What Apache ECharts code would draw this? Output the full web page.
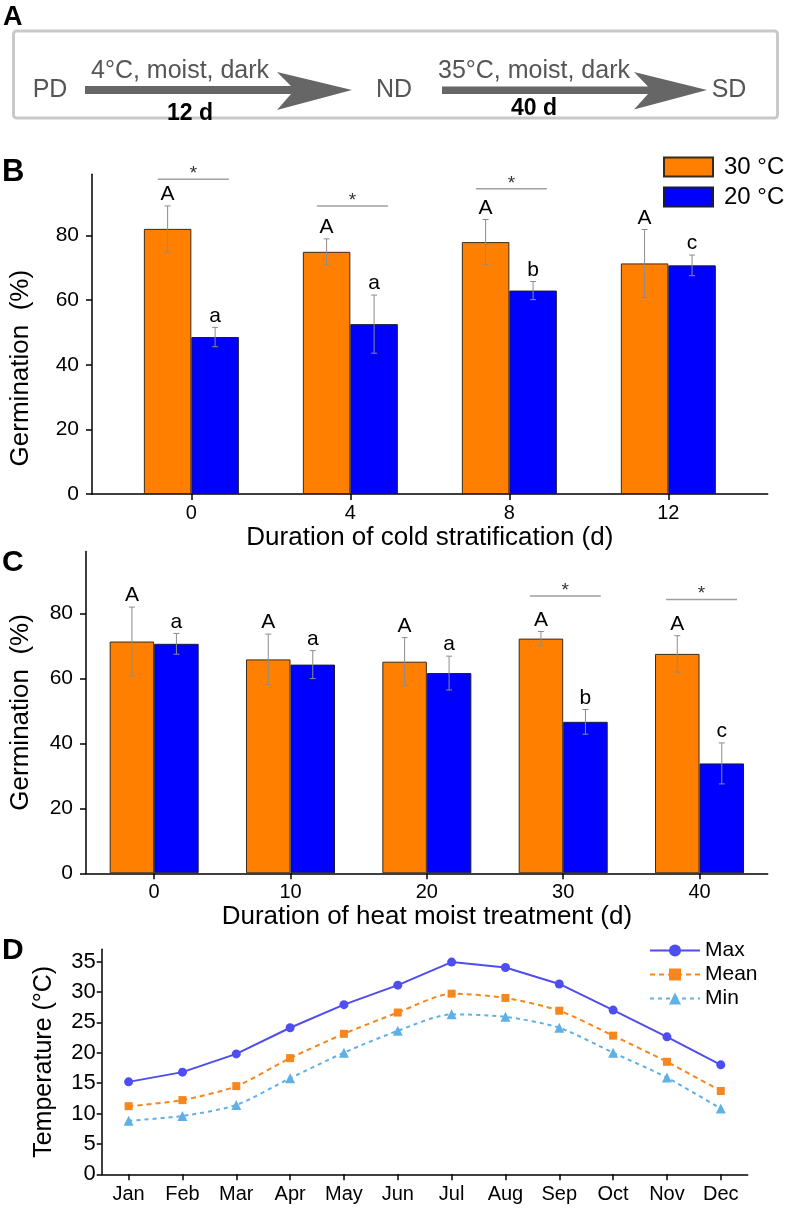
<!DOCTYPE html>
<html><head><meta charset="utf-8">
<script src="https://cdn.jsdelivr.net/npm/echarts@6/dist/echarts.min.js"></script>
<style>html,body{margin:0;padding:0;background:#fff}#c{width:789px;height:1209px}</style>
</head><body><div id="c"></div>
<script>
const FONT = "'Liberation Sans', Arial, Helvetica, sans-serif";

// ---------- Panel B: cold stratification ----------
const coldDays = [0, 4, 8, 12];
const coldG30 = [82.1, 75.0, 78.0, 71.4];
const coldG30Err = [7.1, 4.0, 7.0, 10.5];
const coldG20 = [48.6, 52.6, 63.0, 70.8];
const coldG20Err = [3.0, 9.0, 2.8, 3.2];
const coldLetters30 = ['A', 'A', 'A', 'A'];
const coldLetters20 = ['a', 'a', 'b', 'c'];
const coldSigDays = [0, 4, 8];
const coldSigLevel = [97.5, 89.2, 94.5];

// ---------- Panel C: heat moist treatment ----------
const heatDays = ['0', '10', '20', '30', '40'];
const heatG30 = [71.3, 65.8, 65.1, 72.2, 67.5];
const heatG30Err = [10.6, 7.8, 7.4, 2.2, 5.6];
const heatG20 = [70.6, 64.2, 61.6, 46.6, 33.8];
const heatG20Err = [3.2, 4.3, 5.2, 3.8, 6.3];
const heatLetters30 = ['A', 'A', 'A', 'A', 'A'];
const heatLetters20 = ['a', 'a', 'a', 'b', 'c'];
const heatSigIdx = [3, 4];
const heatSigLevel = [85.3, 84.2];

// ---------- Panel D: monthly temperature ----------
const months = ['Jan', 'Feb', 'Mar', 'Apr', 'May', 'Jun', 'Jul', 'Aug', 'Sep', 'Oct', 'Nov', 'Dec'];
const tMax = [15.2, 16.8, 19.8, 24.1, 27.9, 31.1, 34.9, 34.0, 31.3, 27.0, 22.6, 18.0];
const tMean = [11.2, 12.2, 14.5, 19.1, 23.1, 26.6, 29.7, 29.0, 26.9, 22.8, 18.5, 13.7];
const tMin = [8.8, 9.6, 11.4, 15.8, 20.0, 23.6, 26.3, 25.9, 24.1, 20.0, 15.9, 10.8];

// ---------- tick labels ----------
const germTicks = [0, 20, 40, 60, 80];
const tempTicks = [0, 5, 10, 15, 20, 25, 30, 35];

const ORANGE = '#FF8000', BLUE = '#0000FF';
const BW_B = 47.5, BW_C = 44.5;

function errRender(vals, errs, letters, side, barW) {
  return function (params, api) {
    const i = params.dataIndex;
    const x = api.value(0);
    const v = vals[i], e = errs[i];
    const p = api.coord([x, v + e]);
    const q = api.coord([x, v - e]);
    const cx = p[0] + side * barW / 2;
    const st = { stroke: '#8c8c8c', lineWidth: 1 };
    return {
      type: 'group', children: [
        { type: 'line', shape: { x1: cx, y1: p[1], x2: cx, y2: q[1] }, style: st },
        { type: 'line', shape: { x1: cx - 3, y1: p[1], x2: cx + 3, y2: p[1] }, style: st },
        { type: 'line', shape: { x1: cx - 3, y1: q[1], x2: cx + 3, y2: q[1] }, style: st },
        { type: 'text', x: cx, y: p[1] - 1, style: { text: letters[i], align: 'center', verticalAlign: 'bottom', font: '21px ' + FONT, fill: '#000' } }
      ]
    };
  };
}
function sigRender(params, api) {
  const p = api.coord([api.value(0), api.value(1)]);
  const cx = p[0] + 2, y = p[1];
  return {
    type: 'group', children: [
      { type: 'line', shape: { x1: cx - 35.5, y1: y, x2: cx + 35.5, y2: y }, style: { stroke: '#a0a0a0', lineWidth: 1.5 } },
      { type: 'text', x: cx, y: y + 4, style: { text: '*', align: 'center', verticalAlign: 'bottom', font: '19px ' + FONT, fill: '#333' } }
    ]
  };
}

const axisLineStyle = { show: true, onZero: false, lineStyle: { color: '#000', width: 1.5 } };
const axisTickStyle = { show: true, length: 6, lineStyle: { color: '#000', width: 1.5 } };

const chart = echarts.init(document.getElementById('c'), null, { renderer: 'canvas' });

const option = {
  animation: false,
  backgroundColor: '#fff',
  textStyle: { fontFamily: FONT },
  graphic: [
    // panel letters
    { type: 'text', x: 3, y: 4, style: { text: 'A', font: 'bold 27px ' + FONT, fill: '#000' } },
    { type: 'text', x: 2, y: 157, style: { text: 'B', font: 'bold 31px ' + FONT, fill: '#000' } },
    { type: 'text', x: 2, y: 548, style: { text: 'C', font: 'bold 30px ' + FONT, fill: '#000' } },
    { type: 'text', x: 2, y: 936, style: { text: 'D', font: 'bold 30px ' + FONT, fill: '#000' } },
    // panel A box
    { type: 'rect', shape: { x: 13.5, y: 31, width: 764, height: 87, r: 3 }, style: { fill: 'none', stroke: '#c9c9c9', lineWidth: 3 } },
    { type: 'polygon', shape: { points: [[85, 86], [291, 86], [277, 72], [352, 90], [277, 110], [291, 94], [85, 94]] }, style: { fill: '#666' } },
    { type: 'polygon', shape: { points: [[442, 86.5], [648, 86.5], [634, 72], [707, 90], [634, 109.5], [648, 94], [442, 94]] }, style: { fill: '#666' } },
    { type: 'text', x: 50, y: 90, style: { text: 'PD', align: 'center', verticalAlign: 'middle', font: '25px ' + FONT, fill: '#555' } },
    { type: 'text', x: 394, y: 90, style: { text: 'ND', align: 'center', verticalAlign: 'middle', font: '25px ' + FONT, fill: '#555' } },
    { type: 'text', x: 729, y: 90, style: { text: 'SD', align: 'center', verticalAlign: 'middle', font: '25px ' + FONT, fill: '#555' } },
    { type: 'text', x: 91, y: 71, style: { text: '4°C, moist, dark', align: 'left', verticalAlign: 'middle', font: '25px ' + FONT, fill: '#555' } },
    { type: 'text', x: 438, y: 71, style: { text: '35°C, moist, dark', align: 'left', verticalAlign: 'middle', font: '25px ' + FONT, fill: '#555' } },
    { type: 'text', x: 190, y: 114, style: { text: '12 d', align: 'center', verticalAlign: 'middle', font: 'bold 23px ' + FONT, fill: '#000' } },
    { type: 'text', x: 534, y: 109, style: { text: '40 d', align: 'center', verticalAlign: 'middle', font: 'bold 23px ' + FONT, fill: '#000' } }
  ],
  legend: [
    {
      data: ['30 °C', '20 °C'], orient: 'vertical', left: 663, top: 155,
      itemWidth: 49, itemHeight: 19, itemGap: 6, icon: 'rect', padding: 0,
      textStyle: { fontSize: 24, color: '#000', fontFamily: FONT, padding: [0, 0, 0, 6] }
    },
    {
      data: ['Max', 'Mean', 'Min'], orient: 'vertical', left: 649, top: 940,
      itemWidth: 50, itemHeight: 15, itemGap: 3, padding: 0,
      textStyle: { fontSize: 21, color: '#000', fontFamily: FONT }
    }
  ],
  grid: [
    { left: 85, width: 682.7, top: 174.3, height: 319.7 },
    { left: 85, width: 682.7, top: 551.5, height: 321.8 },
    { left: 101.7, width: 646, top: 949.3, height: 225 }
  ],
  xAxis: [
    {
      gridIndex: 0, type: 'value', min: -2.5, max: 14.5,
      axisLine: axisLineStyle, splitLine: { show: false },
      axisTick: Object.assign({ customValues: coldDays }, axisTickStyle),
      axisLabel: { customValues: coldDays, fontSize: 20, color: '#000', margin: 9, fontFamily: FONT },
      name: 'Duration of cold stratification (d)', nameLocation: 'middle', nameGap: 31,
      nameTextStyle: { fontSize: 26, color: '#000', fontFamily: FONT }
    },
    {
      gridIndex: 1, type: 'category', data: heatDays, boundaryGap: true,
      axisLine: axisLineStyle,
      axisTick: Object.assign({ alignWithLabel: true }, axisTickStyle),
      axisLabel: { fontSize: 20, color: '#000', margin: 9, fontFamily: FONT },
      name: 'Duration of heat moist treatment (d)', nameLocation: 'middle', nameGap: 31,
      nameTextStyle: { fontSize: 26, color: '#000', fontFamily: FONT }
    },
    {
      gridIndex: 2, type: 'category', data: months, boundaryGap: true,
      axisLine: axisLineStyle,
      axisTick: Object.assign({ alignWithLabel: true }, axisTickStyle),
      axisLabel: { fontSize: 20, color: '#000', margin: 10, fontFamily: FONT }
    }
  ],
  yAxis: [
    {
      gridIndex: 0, type: 'value', min: 0, max: 99,
      axisLine: axisLineStyle, splitLine: { show: false },
      axisTick: Object.assign({ customValues: germTicks }, axisTickStyle),
      axisLabel: { customValues: germTicks, fontSize: 21, color: '#000', margin: 13, fontFamily: FONT },
      name: 'Germination  (%)', nameLocation: 'middle', nameGap: 58,
      nameTextStyle: { fontSize: 26, color: '#000', fontFamily: FONT, padding: [0, 68, 0, 0] }
    },
    {
      gridIndex: 1, type: 'value', min: 0, max: 99,
      axisLine: axisLineStyle, splitLine: { show: false },
      axisTick: Object.assign({ customValues: germTicks }, axisTickStyle),
      axisLabel: { customValues: germTicks, fontSize: 21, color: '#000', margin: 13, fontFamily: FONT },
      name: 'Germination  (%)', nameLocation: 'middle', nameGap: 52,
      nameTextStyle: { fontSize: 26, color: '#000', fontFamily: FONT }
    },
    {
      gridIndex: 2, type: 'value', min: 0, max: 37,
      axisLine: axisLineStyle, splitLine: { show: false },
      axisTick: Object.assign({ customValues: tempTicks }, axisTickStyle, { length: 5 }),
      axisLabel: { customValues: tempTicks, fontSize: 22, color: '#000', margin: 6, fontFamily: FONT },
      name: 'Temperature (°C)', nameLocation: 'middle', nameGap: 45,
      nameTextStyle: { fontSize: 25, color: '#000', fontFamily: FONT }
    }
  ],
  series: [
    // Panel B bars
    {
      type: 'bar', name: '30 °C', xAxisIndex: 0, yAxisIndex: 0, barWidth: BW_B, barGap: '0%',
      data: coldDays.map((d, i) => [d, coldG30[i]]),
      itemStyle: { color: ORANGE, borderColor: '#3a2a1a', borderWidth: 1 }
    },
    {
      type: 'bar', name: '20 °C', xAxisIndex: 0, yAxisIndex: 0, barWidth: BW_B, barGap: '0%',
      data: coldDays.map((d, i) => [d, coldG20[i]]),
      itemStyle: { color: BLUE, borderColor: '#1a1a3a', borderWidth: 1 }
    },
    {
      type: 'custom', xAxisIndex: 0, yAxisIndex: 0, z: 5,
      data: coldDays.map((d, i) => [d, coldG30[i]]),
      renderItem: errRender(coldG30, coldG30Err, coldLetters30, -1, BW_B)
    },
    {
      type: 'custom', xAxisIndex: 0, yAxisIndex: 0, z: 5,
      data: coldDays.map((d, i) => [d, coldG20[i]]),
      renderItem: errRender(coldG20, coldG20Err, coldLetters20, 1, BW_B)
    },
    {
      type: 'custom', xAxisIndex: 0, yAxisIndex: 0, z: 5,
      data: coldSigDays.map((d, i) => [d, coldSigLevel[i]]),
      renderItem: sigRender
    },
    // Panel C bars
    {
      type: 'bar', name: '30 °C', xAxisIndex: 1, yAxisIndex: 1, barWidth: BW_C, barGap: '0%',
      data: heatG30,
      itemStyle: { color: ORANGE, borderColor: '#3a2a1a', borderWidth: 1 }
    },
    {
      type: 'bar', name: '20 °C', xAxisIndex: 1, yAxisIndex: 1, barWidth: BW_C, barGap: '0%',
      data: heatG20,
      itemStyle: { color: BLUE, borderColor: '#1a1a3a', borderWidth: 1 }
    },
    {
      type: 'custom', xAxisIndex: 1, yAxisIndex: 1, z: 5,
      data: heatDays.map((d, i) => [i, heatG30[i]]),
      renderItem: errRender(heatG30, heatG30Err, heatLetters30, -1, BW_C)
    },
    {
      type: 'custom', xAxisIndex: 1, yAxisIndex: 1, z: 5,
      data: heatDays.map((d, i) => [i, heatG20[i]]),
      renderItem: errRender(heatG20, heatG20Err, heatLetters20, 1, BW_C)
    },
    {
      type: 'custom', xAxisIndex: 1, yAxisIndex: 1, z: 5,
      data: heatSigIdx.map((d, i) => [d, heatSigLevel[i]]),
      renderItem: sigRender
    },
    // Panel D lines
    {
      type: 'line', name: 'Max', xAxisIndex: 2, yAxisIndex: 2, data: tMax,
      symbol: 'circle', symbolSize: 9,
      itemStyle: { color: '#4d4df0' }, lineStyle: { color: '#4d4df0', width: 2 }
    },
    {
      type: 'line', name: 'Mean', xAxisIndex: 2, yAxisIndex: 2, data: tMean, smooth: 0.25,
      symbol: 'rect', symbolSize: 8,
      itemStyle: { color: '#f7861c' }, lineStyle: { color: '#f7861c', width: 2, type: [5, 4] }
    },
    {
      type: 'line', name: 'Min', xAxisIndex: 2, yAxisIndex: 2, data: tMin, smooth: 0.25,
      symbol: 'triangle', symbolSize: 10,
      itemStyle: { color: '#5fb0e6' }, lineStyle: { color: '#5fb0e6', width: 2, type: [4, 4] }
    }
  ]
};
chart.setOption(option);
</script>
</body></html>
